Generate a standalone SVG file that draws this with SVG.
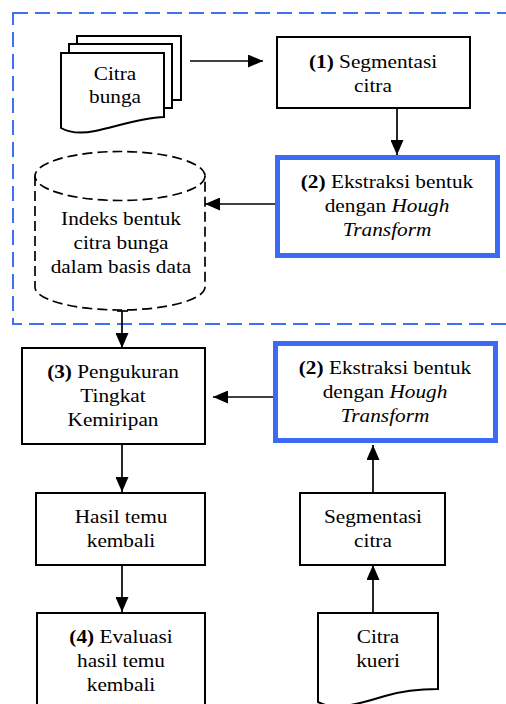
<svg xmlns="http://www.w3.org/2000/svg" width="506" height="704" viewBox="0 0 506 704">
<defs>
<style>
.t{font-family:'Liberation Serif','DejaVu Serif',serif;font-size:19px;text-anchor:middle;fill:#000}
.b{font-weight:bold}
.i{font-style:italic}
.box{fill:#fff;stroke:#000;stroke-width:2}
.blue{fill:#fff;stroke:#3d6af5;stroke-width:5}
.frame{fill:none;stroke:#3f6ff2;stroke-width:2;stroke-dasharray:15 7}
.cyl{fill:#fff;stroke:#000;stroke-width:1.7;stroke-dasharray:10 5}
.ln{stroke:#000;stroke-width:1.7;fill:none}
</style>
<marker id="ah" viewBox="0 0 15 13" refX="15" refY="6.5" markerWidth="15" markerHeight="13" markerUnits="userSpaceOnUse" orient="auto">
<path d="M0,0 L15,6.5 L0,13 Z" fill="#000"/>
</marker>
</defs>
<rect width="506" height="704" fill="#fff"/>
<rect id="frame" class="frame" x="13" y="13" width="520" height="311"/>

<g font-family="Liberation Serif, DejaVu Serif, serif">
<g id="citra-bunga">
<rect class="box" x="77" y="36" width="104" height="64"/>
<rect class="box" x="69" y="44" width="103" height="64"/>
<path class="box" d="M61,53 H164 V117 C140,118 115,127 95,131 C80,134 70,133 61,128 Z"/>
<text class="t" transform="translate(115,80) scale(1.12,1)"><tspan x="0" y="0">Citra</tspan><tspan x="0" y="23">bunga</tspan></text>
</g>

<g id="segmentasi1">
<rect class="box" x="277" y="37" width="193" height="71"/>
<text class="t" transform="translate(373,68) scale(1.12,1)"><tspan x="0" y="0"><tspan class="b">(1)</tspan> Segmentasi</tspan><tspan x="0" y="24">citra</tspan></text>
</g>

<g id="ekstraksi1">
<rect class="blue" x="277.5" y="157.5" width="220" height="98"/>
<text class="t" transform="translate(387,188) scale(1.12,1)"><tspan x="0" y="0"><tspan class="b">(2)</tspan> Ekstraksi bentuk</tspan><tspan x="0" y="24">dengan <tspan class="i">Hough</tspan></tspan><tspan x="0" y="48" class="i">Transform</tspan></text>
</g>

<g id="indeks">
<path class="cyl" d="M35,176 V287 A85,23 0 0 0 205,287 V176"/>
<ellipse class="cyl" cx="120" cy="176" rx="85" ry="24.5"/>
<text class="t" transform="translate(121,225) scale(1.12,1)"><tspan x="0" y="0">Indeks bentuk</tspan><tspan x="0" y="24">citra bunga</tspan><tspan x="0" y="48">dalam basis data</tspan></text>
</g>

<g id="pengukuran">
<rect class="box" x="22" y="348" width="183" height="96"/>
<text class="t" transform="translate(113,378) scale(1.12,1)"><tspan x="0" y="0"><tspan class="b">(3)</tspan> Pengukuran</tspan><tspan x="0" y="24">Tingkat</tspan><tspan x="0" y="48">Kemiripan</tspan></text>
</g>

<g id="ekstraksi2">
<rect class="blue" x="275.5" y="343.5" width="220" height="97"/>
<text class="t" transform="translate(385,374) scale(1.12,1)"><tspan x="0" y="0"><tspan class="b">(2)</tspan> Ekstraksi bentuk</tspan><tspan x="0" y="24">dengan <tspan class="i">Hough</tspan></tspan><tspan x="0" y="48" class="i">Transform</tspan></text>
</g>

<g id="hasil">
<rect class="box" x="36" y="493" width="169" height="72"/>
<text class="t" transform="translate(121,523) scale(1.12,1)"><tspan x="0" y="0">Hasil temu</tspan><tspan x="0" y="24">kembali</tspan></text>
</g>

<g id="segmentasi2">
<rect class="box" x="300" y="493" width="145" height="72"/>
<text class="t" transform="translate(373,523) scale(1.12,1)"><tspan x="0" y="0">Segmentasi</tspan><tspan x="0" y="24">citra</tspan></text>
</g>

<g id="evaluasi">
<rect class="box" x="37" y="613" width="168" height="95"/>
<text class="t" transform="translate(121,643) scale(1.12,1)"><tspan x="0" y="0"><tspan class="b">(4)</tspan> Evaluasi</tspan><tspan x="0" y="24">hasil temu</tspan><tspan x="0" y="48">kembali</tspan></text>
</g>

<g id="citra-kueri">
<path class="box" d="M318,613 H438 V689 C420,689 405,690 385,696 C365,702 345,708 330,706 C324,705 320,703 318,702 Z"/>
<text class="t" transform="translate(378,643) scale(1.12,1)"><tspan x="0" y="0">Citra</tspan><tspan x="0" y="24">kueri</tspan></text>
</g>
</g>

<g id="connectors">
<line class="ln" x1="190" y1="61" x2="263" y2="61" marker-end="url(#ah)"/>
<line class="ln" x1="397" y1="108" x2="397" y2="155" marker-end="url(#ah)"/>
<line class="ln" x1="275" y1="204" x2="205" y2="204" marker-end="url(#ah)"/>
<line class="ln" x1="117" y1="311" x2="128" y2="311"/>
<line class="ln" x1="122" y1="311" x2="122" y2="348" marker-end="url(#ah)"/>
<line class="ln" x1="273" y1="397" x2="213" y2="397" marker-end="url(#ah)"/>
<line class="ln" x1="122" y1="444" x2="122" y2="492" marker-end="url(#ah)"/>
<line class="ln" x1="122" y1="565" x2="122" y2="612" marker-end="url(#ah)"/>
<line class="ln" x1="373" y1="493" x2="373" y2="445" marker-end="url(#ah)"/>
<line class="ln" x1="373" y1="613" x2="373" y2="565" marker-end="url(#ah)"/>
</g>
</svg>
